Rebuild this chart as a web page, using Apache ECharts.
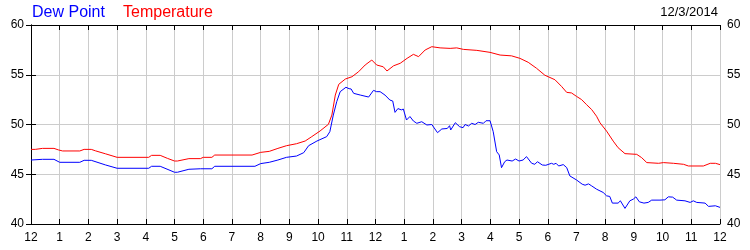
<!DOCTYPE html>
<html>
<head>
<meta charset="utf-8">
<script src="https://cdn.jsdelivr.net/npm/echarts@6/dist/echarts.min.js"></script>
<style>html,body{margin:0;padding:0;background:#fff;}#c{width:750px;height:250px;}</style>
</head>
<body>
<div id="c"></div>
<script>
const tempHours = [0,0.15,0.4,0.8,0.95,1.1,1.7,1.85,2.1,2.25,2.6,3.0,4.1,4.2,4.5,4.75,5.0,5.1,5.5,5.9,6.0,6.3,6.4,7.7,8.0,8.3,8.6,8.9,9.25,9.55,9.78,10.07,10.36,10.48,10.6,10.72,10.95,11.18,11.41,11.64,11.87,12.04,12.27,12.4,12.63,12.86,13.1,13.32,13.5,13.73,13.96,14.25,14.6,14.83,15.06,15.53,15.99,16.34,16.74,17.03,17.32,17.61,17.9,18.25,18.48,18.66,18.83,19.0,19.18,19.35,19.53,19.7,19.82,20.05,20.28,20.45,20.69,21.1,21.27,21.45,21.86,22.03,22.38,22.73,22.9,23.42,23.66,23.84,24];
const tempValues = [47.5,47.5,47.6,47.6,47.45,47.34,47.34,47.5,47.5,47.35,47.05,46.7,46.7,46.9,46.9,46.6,46.33,46.33,46.57,46.57,46.7,46.7,46.93,46.93,47.2,47.3,47.6,47.87,48.07,48.34,48.78,49.35,50.02,50.95,52.96,54.04,54.57,54.8,55.3,55.98,56.48,55.98,55.8,55.38,55.9,56.15,56.65,57.05,56.82,57.49,57.82,57.7,57.65,57.7,57.55,57.45,57.25,56.98,56.9,56.65,56.25,55.65,54.95,54.5,53.83,53.23,53.17,52.83,52.5,52.0,51.5,50.83,50.17,49.33,48.33,47.67,47.07,47.0,46.67,46.17,46.1,46.17,46.1,46.0,45.83,45.83,46.1,46.1,45.97];

const dewHours = [0,0.4,0.8,1.0,1.7,1.85,2.1,2.6,3.0,4.1,4.2,4.5,5.0,5.1,5.5,5.9,6.3,6.4,7.8,8.0,8.3,8.6,8.9,9.25,9.5,9.67,9.96,10.3,10.41,10.53,10.65,10.77,10.97,11.08,11.15,11.24,11.47,11.76,11.93,12.04,12.16,12.33,12.5,12.6,12.68,12.78,12.9,12.97,13.08,13.2,13.32,13.44,13.61,13.79,13.96,14.16,14.31,14.5,14.58,14.62,14.78,14.93,15.05,15.12,15.24,15.35,15.47,15.58,15.76,15.85,15.99,16.1,16.22,16.31,16.39,16.5,16.58,16.76,16.88,17.0,17.14,17.26,17.44,17.55,17.64,17.81,17.93,18.13,18.21,18.29,18.38,18.54,18.66,18.77,19.0,19.2,19.3,19.42,19.53,19.7,19.93,20.05,20.16,20.25,20.45,20.53,20.69,20.86,20.98,21.07,21.19,21.35,21.5,21.62,21.91,22.08,22.2,22.35,22.49,22.78,22.96,23.07,23.19,23.48,23.6,23.84,24];
const dewValues = [46.43,46.5,46.5,46.2,46.2,46.4,46.4,45.93,45.6,45.6,45.8,45.8,45.2,45.2,45.5,45.55,45.55,45.8,45.8,46.07,46.2,46.43,46.7,46.83,47.17,47.87,48.34,48.78,49.28,50.95,52.3,53.3,53.74,53.6,53.57,53.13,52.96,52.76,53.43,53.3,53.3,52.96,52.46,52.36,51.22,51.6,51.47,51.55,50.45,50.8,50.35,50.12,50.28,49.95,50.0,49.18,49.55,49.6,49.88,49.45,50.18,49.78,49.68,50.0,49.85,50.12,50.0,50.22,50.12,50.38,50.38,49.28,47.27,46.94,45.66,46.26,46.43,46.33,46.53,46.33,46.43,46.77,46.1,46.0,46.26,45.93,45.9,46.1,46.0,46.1,45.83,45.97,45.67,44.83,44.43,44.0,43.9,44.03,43.83,43.5,43.17,42.83,42.77,42.1,42.1,42.33,41.57,42.33,42.5,42.73,42.23,42.1,42.17,42.4,42.4,42.43,42.73,42.7,42.4,42.33,42.17,42.33,42.17,42.1,41.77,41.83,41.67];

const yTicks = [40,45,50,55,60];
const dateLabel = '12/3/2014';
const seriesNames = ['Dew Point','Temperature'];

const zip = (a,b) => a.map((h,i) => [h, b[i]]);
const FONT = 'Liberation Sans, Arial, sans-serif';
const hourLabel = v => { const m = Math.round(v) % 12; return String(m === 0 ? 12 : m); };

const chart = echarts.init(document.getElementById('c'), null, {renderer:'canvas'});
chart.setOption({
  animation: false,
  backgroundColor: '#fff',
  title: [
    {text: seriesNames[0], left: 32, top: 5, padding: 0, textStyle:{color:'#0000ff', fontSize:16, fontWeight:'normal', fontFamily:FONT}},
    {text: seriesNames[1], left: 123, top: 5, padding: 0, textStyle:{color:'#ff0000', fontSize:16, fontWeight:'normal', fontFamily:FONT}},
    {text: dateLabel, right: 32, top: 6, padding: 0, textStyle:{color:'#000', fontSize:13, fontWeight:'normal', fontFamily:FONT}}
  ],
  grid: {left: 31, right: 30, top: 25, bottom: 26, containLabel: false},
  xAxis: [
    {type:'value', min:0, max:24, interval:1, position:'bottom',
     axisLine:{show:true, lineStyle:{color:'#000', width:1}},
     axisTick:{show:true, inside:true, length:5, lineStyle:{color:'#000'}},
     axisLabel:{formatter: hourLabel, color:'#000', fontSize:12, fontFamily:FONT, margin:8},
     splitLine:{show:true, lineStyle:{color:'#cccccc', width:1}}},
    {type:'value', min:0, max:24, interval:1, position:'top',
     axisLine:{show:true, lineStyle:{color:'#000', width:1}},
     axisTick:{show:true, inside:true, length:5, lineStyle:{color:'#000'}},
     axisLabel:{show:false}, splitLine:{show:false}}
  ],
  yAxis: [
    {type:'value', min:yTicks[0], max:yTicks[yTicks.length-1], interval:5, position:'left',
     axisLine:{show:true, lineStyle:{color:'#000', width:1}},
     axisTick:{show:true, inside:true, length:5, lineStyle:{color:'#000'}},
     axisLabel:{color:'#000', fontSize:12, fontFamily:FONT, margin:7},
     splitLine:{show:true, lineStyle:{color:'#cccccc', width:1}}},
    {type:'value', min:yTicks[0], max:yTicks[yTicks.length-1], interval:5, position:'right',
     axisLine:{show:true, lineStyle:{color:'#000', width:1}},
     axisTick:{show:true, inside:true, length:5, lineStyle:{color:'#000'}},
     axisLabel:{color:'#000', fontSize:12, fontFamily:FONT, margin:7},
     splitLine:{show:false}}
  ],
  series: [
    {name: seriesNames[1], type:'line', data: zip(tempHours, tempValues), showSymbol:false, symbol:'none',
     lineStyle:{color:'#ff0000', width:1}, itemStyle:{color:'#ff0000'}, z:3},
    {name: seriesNames[0], type:'line', data: zip(dewHours, dewValues), showSymbol:false, symbol:'none',
     lineStyle:{color:'#0000ff', width:1}, itemStyle:{color:'#0000ff'}, z:4}
  ]
});
</script>
</body>
</html>
